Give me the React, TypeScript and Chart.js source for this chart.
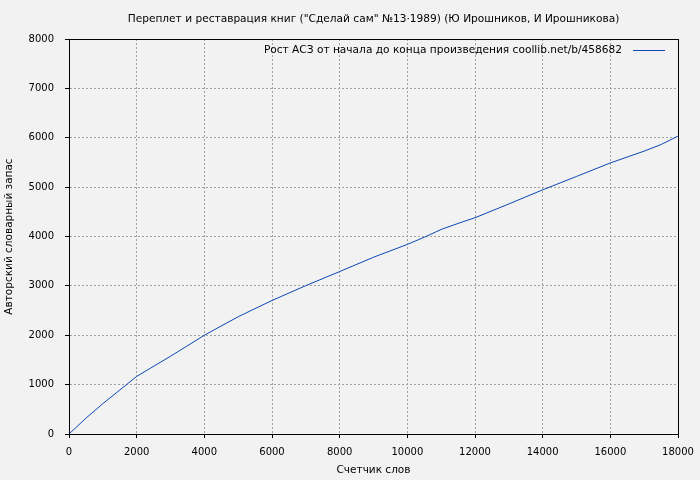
import { useEffect, useRef } from 'react';
import { Chart, registerables } from 'chart.js';

Chart.register(...registerables);

const chartTitle = 'Переплет и реставрация книг ("Сделай сам" №13·1989) (Ю Ирошников, И Ирошникова)';
const seriesLabel = 'Рост АСЗ от начала до конца произведения coollib.net/b/458682';
const xAxisTitle = 'Счетчик слов';
const yAxisTitle = 'Авторский словарный запас';

const wordCounts = [0, 500, 1000, 2000, 3000, 4000, 5000, 6000, 7000, 8000, 9000, 10000, 10500, 11000, 11500, 12000, 13000, 14000, 15000, 16000, 17000, 17500, 18000];
const vocabulary = [0, 320, 614, 1166, 1575, 2000, 2375, 2704, 3005, 3290, 3580, 3840, 3985, 4143, 4265, 4380, 4659, 4945, 5216, 5490, 5729, 5863, 6033];

const xTicks = [0, 2000, 4000, 6000, 8000, 10000, 12000, 14000, 16000, 18000];
const yTicks = [0, 1000, 2000, 3000, 4000, 5000, 6000, 7000, 8000];

const FONT = '"DejaVu Sans", sans-serif';
const LINE_COLOR = '#0a48b4';

// рамка вокруг области графика (верх и право тоже)
const frame = {
  id: 'frame',
  afterDraw(chart: any) {
    const { ctx, chartArea: a } = chart;
    ctx.save();
    ctx.strokeStyle = '#000';
    ctx.lineWidth = 1;
    ctx.setLineDash([]);
    ctx.strokeRect(Math.round(a.left) + 0.5, Math.round(a.top) + 0.5, Math.round(a.right - a.left), Math.round(a.bottom - a.top));
    ctx.restore();
  },
};

// легенда внутри графика, справа сверху как в gnuplot
const insideLegend = {
  id: 'insideLegend',
  afterDraw(chart: any) {
    const { ctx, chartArea } = chart;
    const ds = chart.data.datasets[0];
    const y = Math.round(chartArea.top + 11) + 0.5;
    const lineEnd = chartArea.right - 13;
    const lineStart = lineEnd - 32;
    ctx.save();
    ctx.font = '10.6px ' + FONT;
    ctx.fillStyle = '#000';
    ctx.textAlign = 'right';
    ctx.textBaseline = 'middle';
    ctx.fillText(ds.label, lineStart - 11, y);
    ctx.strokeStyle = ds.borderColor;
    ctx.lineWidth = 1;
    ctx.beginPath();
    ctx.moveTo(lineStart, y);
    ctx.lineTo(lineEnd, y);
    ctx.stroke();
    ctx.restore();
  },
};

function VocabChart() {
  const canvasRef = useRef<HTMLCanvasElement>(null);

  useEffect(() => {
    document.body.style.margin = '0';
    const canvas = canvasRef.current;
    if (!canvas) return;
    const context = canvas.getContext('2d');
    if (!context) return;

    const gridOpts = {
      color: '#a0a0a0',
      tickColor: '#000',
      tickBorderDash: [],
      tickLength: 4,
      lineWidth: 1,
    };
    // в v4 штрих линий сетки задаётся через border.dash
    const borderOpts = { display: true, color: '#000', width: 1, dash: [2, 2] };

    const chart = new Chart(context, {
      type: 'line',
      data: {
        datasets: [{
          label: seriesLabel,
          data: wordCounts.map((x, i) => ({ x, y: vocabulary[i] })),
          borderColor: LINE_COLOR,
          backgroundColor: LINE_COLOR,
          borderWidth: 1,
          pointRadius: 0,
          tension: 0,
        }],
      },
      options: {
        animation: false,
        responsive: false,
        devicePixelRatio: 1,
        layout: { padding: { left: 0, right: 22, top: 0, bottom: 0 } },
        plugins: {
          legend: { display: false },
          tooltip: { enabled: false },
          title: {
            display: true,
            text: chartTitle,
            fullSize: false,
            color: '#000',
            font: { family: FONT, size: 10.6, weight: 'normal', lineHeight: '13px' },
            padding: { top: 13, bottom: 13 },
          },
        },
        scales: {
          x: {
            type: 'linear',
            min: 0,
            max: 18000,
            afterBuildTicks: (s: any) => { s.ticks = xTicks.map((v) => ({ value: v })); },
            afterFit: (s: any) => {
              s.height = 46;
              s.paddingLeft = 0;
              s.paddingRight = 0;
            },
            grid: gridOpts,
            border: borderOpts,
            ticks: {
              color: '#000',
              font: { family: FONT, size: 10 },
              padding: 8,
              maxRotation: 0,
              callback: (v: any) => String(v),
            },
            title: {
              display: true,
              text: xAxisTitle,
              color: '#000',
              font: { family: FONT, size: 10.5 },
              padding: { top: 0, bottom: 3 },
            },
          },
          y: {
            type: 'linear',
            min: 0,
            max: 8000,
            afterBuildTicks: (s: any) => { s.ticks = yTicks.map((v) => ({ value: v })); },
            afterFit: (s: any) => {
              s.width = 69;
              s.paddingTop = 0;
              s.paddingBottom = 0;
            },
            grid: gridOpts,
            border: borderOpts,
            ticks: {
              color: '#000',
              font: { family: FONT, size: 10 },
              padding: 11,
              callback: (v: any) => String(v),
            },
            title: {
              display: true,
              text: yAxisTitle,
              color: '#000',
              font: { family: FONT, size: 10.5 },
              padding: { top: 3, bottom: 0 },
            },
          },
        },
      },
      plugins: [frame, insideLegend],
    });

    return () => {
      chart.destroy();
    };
  }, []);

  return <canvas ref={canvasRef} width={700} height={480} style={{ display: 'block', background: '#f2f2f2' }} />;
}

export default function App() {
  return <VocabChart />;
}
